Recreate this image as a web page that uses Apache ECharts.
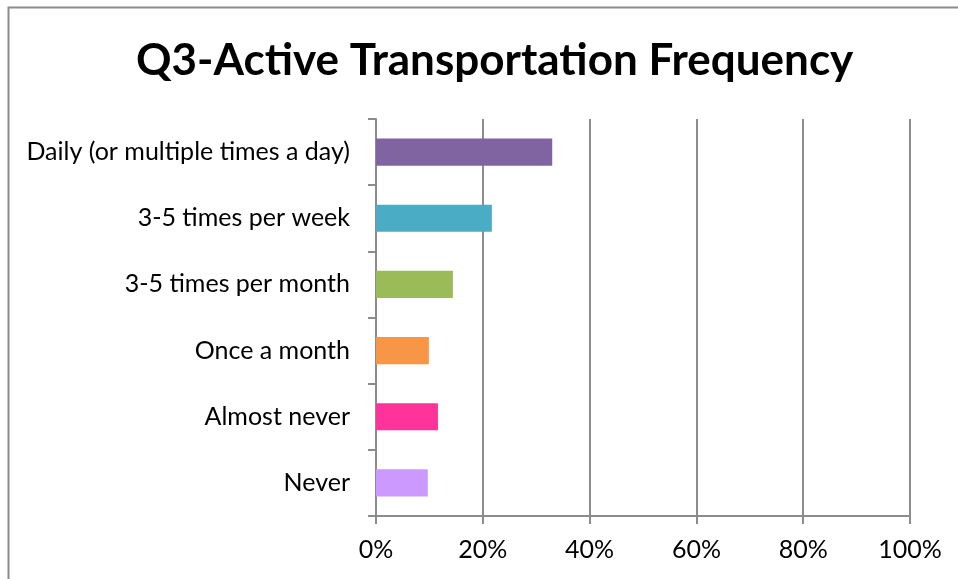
<!DOCTYPE html>
<html lang="en">
<head>
    <meta charset="UTF-8">
    <title>Q3-Active Transportation Frequency</title>
    <style>
        html, body { margin: 0; padding: 0; background: #fff; }
        #main { width: 958px; height: 579px; }
    </style>
</head>
<body>
<div id="main"></div>
<script src="https://cdn.jsdelivr.net/npm/echarts@6/dist/echarts.min.js"></script>
<script type="text/javascript">
    // categories, top to bottom as in the picture
    var categories = [
        'Daily (or multiple times a day)',
        '3-5 times per week',
        '3-5 times per month',
        'Once a month',
        'Almost never',
        'Never'
    ];
    var values = [33.0, 21.7, 14.4, 9.9, 11.6, 9.7];
    var barColors = ['#8064A2', '#4BACC6', '#9BBB59', '#F79646', '#FF3399', '#CC99FF'];
    var xTicks = [0, 20, 40, 60, 80, 100];

    var gray = '#8c8c8c';
    var chart = echarts.init(document.getElementById('main'));

    var option = {
        backgroundColor: '#fff',
        animation: false,
        title: {
            text: 'Q3-Active Transportation Frequency',
            left: 131,
            top: 34,
            textStyle: {
                fontFamily: 'Lato',
                fontWeight: 'bold',
                fontSize: 44,
                color: '#000'
            }
        },
        graphic: [
            {
                type: 'polyline',
                shape: { points: [[8.5, 600], [8.5, 7.5], [960, 7.5]] },
                style: { stroke: gray, lineWidth: 2, fill: null },
                silent: true
            }
        ],
        grid: {
            left: 376,
            right: 48,
            top: 119,
            bottom: 63,
            containLabel: false
        },
        xAxis: {
            type: 'value',
            min: 0,
            max: 100,
            interval: 20,
            axisLine: { show: true, lineStyle: { color: gray, width: 2 } },
            axisTick: { show: true, length: 8, lineStyle: { color: gray, width: 2 } },
            splitLine: { show: true, lineStyle: { color: gray, width: 2 } },
            axisLabel: {
                margin: 21,
                fontFamily: 'Lato',
                fontSize: 25,
                color: '#000',
                formatter: function (v) { return xTicks.indexOf(v) >= 0 ? v + '%' : ''; }
            }
        },
        yAxis: {
            type: 'category',
            inverse: true,
            data: categories,
            axisLine: { show: true, lineStyle: { color: gray, width: 2 } },
            axisTick: { show: true, length: 8, alignWithLabel: false, lineStyle: { color: gray, width: 2 } },
            splitLine: { show: false },
            axisLabel: {
                margin: 26,
                fontFamily: 'Lato',
                fontSize: 25,
                color: '#000'
            }
        },
        series: [
            {
                type: 'bar',
                data: values.map(function (v, i) {
                    return { value: v, itemStyle: { color: barColors[i] } };
                }),
                barWidth: '41%'
            }
        ]
    };
    chart.setOption(option);
</script>
</body>
</html>
